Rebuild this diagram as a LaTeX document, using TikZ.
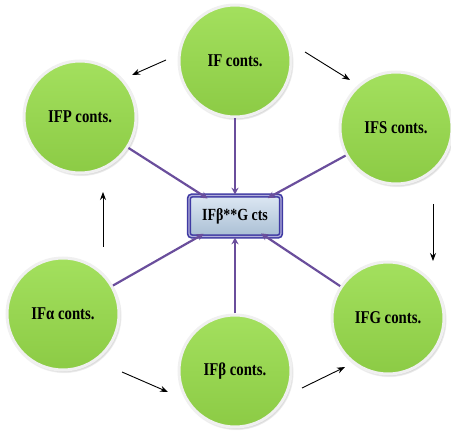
\documentclass[tikz,border=0pt]{standalone}
\usepackage{fontspec}
\setmainfont{Liberation Serif}[FakeStretch=0.82]
\usetikzlibrary{arrows.meta,shadows}
\definecolor{ballgreen}{HTML}{A3E05E}
\definecolor{balldark}{HTML}{8CCB45}
\definecolor{linkpurple}{HTML}{6A4E9C}
\definecolor{boxedge}{HTML}{3F3AA3}
\definecolor{boxtop}{HTML}{DDE8F3}
\definecolor{boxbot}{HTML}{A9BED4}

\begin{document}
\begin{tikzpicture}[x=1pt,y=-1pt,
        ball/.style={circle,minimum size=112pt,inner sep=0pt,
          top color=ballgreen,bottom color=balldark,
          draw=white!94!black,line width=3pt,
          circular drop shadow={shadow xshift=1pt,shadow yshift=-1.5pt,shadow scale=1.03},
          font=\bfseries\fontsize{18}{18}\selectfont},
        centre/.style={rectangle,rounded corners=3pt,minimum width=92pt,minimum height=41pt,
          top color=boxtop,bottom color=boxbot,
          draw=boxedge,line width=1.6pt,double=boxedge!40!white,double distance=1.2pt,
          font=\bfseries\fontsize{17}{17}\selectfont},
        link/.style={draw=linkpurple,line width=2.2pt,-{Stealth[length=7pt,width=7pt]}},
        flow/.style={draw=black,line width=0.9pt,-{Stealth[length=8pt,width=6pt]}}]
        \useasboundingbox (0,0) rectangle (451,436);
        % circles and the box
        \node[ball](if) at (235,61) {IF conts.};
        \node[ball](ifp) at (80,117) {IFP conts.};
        \node[ball](ifs) at (396,128) {IFS conts.};
        \node[ball](ifa) at (63,314) {IFα conts.};
        \node[ball](ifb) at (235,371) {IFβ conts.};
        \node[ball](ifg) at (388,318) {IFG conts.};
        \node[centre](ifbg) at (235,216) {IFβ**G cts};
        % purple links into the box
        \draw[link](if)--(ifbg);
        \draw[link,shorten >=-7pt](ifp)--(ifbg);
        \draw[link,shorten >=-7pt](ifs)--(ifbg);
        \draw[link,shorten >=-7pt](ifa)--(ifbg);
        \draw[link](ifb)--(ifbg);
        \draw[link,shorten >=-7pt](ifg)--(ifbg);
        % black arrows
        \coordinate(a1) at (166,60);
        \coordinate(a2) at (132,75);
        \coordinate(b1) at (305,52);
        \coordinate(b2) at (350,80);
        \coordinate(c1) at (433,204);
        \coordinate(c2) at (433,261);
        \coordinate(d1) at (302,388);
        \coordinate(d2) at (345,367);
        \coordinate(e1) at (122,372);
        \coordinate(e2) at (168,392);
        \coordinate(f1) at (103,247);
        \coordinate(f2) at (103,192);
        \draw[flow](a1)--(a2);
        \draw[flow](b1)--(b2);
        \draw[flow](c1)--(c2);
        \draw[flow](d1)--(d2);
        \draw[flow](e1)--(e2);
        \draw[flow](f1)--(f2);
        \end{tikzpicture}
\end{document}
